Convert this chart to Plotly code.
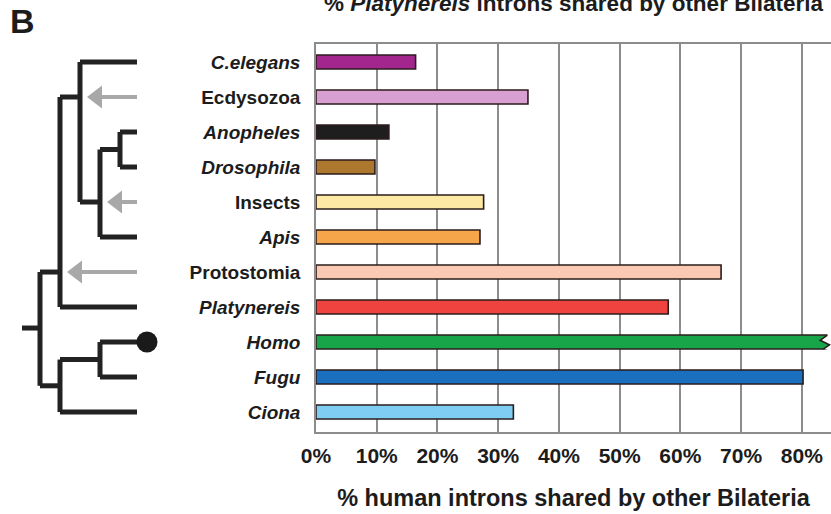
import plotly.graph_objects as go

# Taxa listed top to bottom, share of human introns found in each
taxa = ["C.elegans", "Ecdysozoa", "Anopheles", "Drosophila", "Insects", "Apis",
        "Protostomia", "Platynereis", "Homo", "Fugu", "Ciona"]
is_clade = [False, True, False, False, True, False, True, False, False, False, False]
shared_pct = [16.4, 34.9, 12.0, 9.7, 27.6, 27.0, 66.7, 58.0, 100.0, 80.2, 32.5]
bar_colors = ["#a2268e", "#d8a0d2", "#1e1e1e", "#ad772d", "#fde9a4", "#f6a54b",
              "#fac9b3", "#ee433e", "#18a54a", "#1b6fbf", "#80cdf3"]

pct_ticks = [0, 10, 20, 30, 40, 50, 60, 70, 80]
pct_labels = [f"{v}%" for v in pct_ticks]

# Cladogram: node -> (parent, depth, row); tips sit at depth TIP_DEPTH on their own row
TIP_DEPTH = 5.85
tree = {
    "Bilateria":     (None,            1.0, 7.6),
    "Protostomia":   ("Bilateria",     2.0, 6.0),
    "Deuterostomia": ("Bilateria",     2.0, 9.25),
    "Ecdysozoa":     ("Protostomia",   3.0, 1.0),
    "Insects":       ("Ecdysozoa",     4.0, 4.0),
    "Diptera":       ("Insects",       5.0, 2.5),
    "Vertebrata":    ("Deuterostomia", 4.0, 8.5),
    "C.elegans":     ("Ecdysozoa",     TIP_DEPTH, 0),
    "Anopheles":     ("Diptera",       TIP_DEPTH, 2),
    "Drosophila":    ("Diptera",       TIP_DEPTH, 3),
    "Apis":          ("Insects",       TIP_DEPTH, 5),
    "Platynereis":   ("Protostomia",   TIP_DEPTH, 7),
    "Homo":          ("Vertebrata",    TIP_DEPTH, 8),
    "Fugu":          ("Vertebrata",    TIP_DEPTH, 9),
    "Ciona":         ("Deuterostomia", TIP_DEPTH, 10),
}
ROOT_STUB = 0.1
arrow_clades = ["Ecdysozoa", "Insects", "Protostomia"]
reference_taxon = "Homo"

FONT = "Liberation Sans, Arial, Helvetica, sans-serif"
INK = "#1c1c1c"
GRID = "#8c8c8c"

# ---- tree segments -------------------------------------------------------
tx, ty = [], []
children = {}
for name, (parent, d, r) in tree.items():
    if parent is not None:
        children.setdefault(parent, []).append(name)
for name, (parent, d, r) in tree.items():
    if parent is None:
        tx += [ROOT_STUB, d, None]
        ty += [r, r, None]
    else:
        pd_ = tree[parent][1]
        tx += [pd_, d, None]
        ty += [r, r, None]
for name, kids in children.items():
    d = tree[name][1]
    rows = [tree[k][2] for k in kids]
    tx += [d, d, None]
    ty += [min(rows), max(rows), None]

fig = go.Figure()

fig.add_trace(go.Scatter(
    x=tx, y=ty, xaxis="x2", yaxis="y", mode="lines",
    line=dict(color="#222222", width=5), hoverinfo="skip", showlegend=False,
))

# grey arrows pointing at the clade nodes
for clade in arrow_clades:
    d, r = tree[clade][1], tree[clade][2]
    fig.add_trace(go.Scatter(
        x=[TIP_DEPTH, d + 0.85], y=[r, r], xaxis="x2", yaxis="y", mode="lines",
        line=dict(color="#a8a8a8", width=4), hoverinfo="skip", showlegend=False,
    ))
    fig.add_trace(go.Scatter(
        x=[d + 0.85], y=[r], xaxis="x2", yaxis="y", mode="markers",
        marker=dict(symbol="triangle-left", size=20, color="#a8a8a8"),
        hoverinfo="skip", showlegend=False,
    ))

# black dot on the reference genome tip
fig.add_trace(go.Scatter(
    x=[TIP_DEPTH + 0.5], y=[tree[reference_taxon][2]], xaxis="x2", yaxis="y",
    mode="markers", marker=dict(size=21, color="#1a1a1a"),
    hoverinfo="skip", showlegend=False,
))

# ---- bars ----------------------------------------------------------------
rows = list(range(len(taxa)))
fig.add_trace(go.Bar(
    x=shared_pct, y=rows, orientation="h", xaxis="x", yaxis="y",
    width=0.4, marker=dict(color=bar_colors, line=dict(color="#2b1c1c", width=1.6)),
    showlegend=False, hoverinfo="x+y",
))

ticktext = [f"<b>{t}</b>" if c else f"<b><i>{t}</i></b>" for t, c in zip(taxa, is_clade)]

# broken end of the off-scale bar
hr = taxa.index(reference_taxon)
zig_x = [0.993, 0.979, 0.997, 0.985]
zig_y = [hr - 0.2, hr - 0.05, hr + 0.08, hr + 0.2]
cover = "M " + " L ".join(f"{x},{y}" for x, y in zip(zig_x, zig_y)) + f" L 1.02,{hr + 0.3} L 1.02,{hr - 0.3} L {zig_x[0]},{hr - 0.3} Z"
edge = "M " + " L ".join(f"{x},{y}" for x, y in zip(zig_x, zig_y))

fig.update_layout(
    width=831, height=514,
    margin=dict(l=0, r=0, t=44, b=82, autoexpand=False),
    paper_bgcolor="white", plot_bgcolor="white",
    font=dict(family=FONT, color=INK),
    xaxis=dict(
        domain=[316 / 831, 1.0], range=[0, 84.8], automargin=False,
        tickvals=pct_ticks, ticktext=pct_labels,
        tickfont=dict(size=21, weight="bold", color=INK),
        ticks="", ticklabelstandoff=4,
        showgrid=True, gridcolor=GRID, gridwidth=1.5,
        showline=True, linecolor=GRID, linewidth=1.5, mirror=True,
        zeroline=False, fixedrange=True,
        title=dict(text="<b>% human introns shared by other Bilateria</b>",
                   font=dict(size=23.5, color=INK), standoff=24),
    ),
    xaxis2=dict(
        domain=[0, 316 / 831], range=[-1.0, 14.8], anchor="y",
        visible=False, fixedrange=True, automargin=False,
    ),
    yaxis=dict(
        range=[10.57, -0.514], tickvals=rows, ticktext=ticktext, automargin=False,
        tickfont=dict(size=19, color=INK),
        ticks="", ticklabelstandoff=10,
        showgrid=False, showline=True, linecolor=GRID, linewidth=1.5, mirror=True,
        zeroline=False, fixedrange=True,
    ),
    shapes=[
        dict(type="path", xref="x domain", yref="y", path=cover,
             fillcolor="white", line=dict(width=0), layer="above"),
        dict(type="path", xref="x domain", yref="y", path=edge,
             line=dict(color="#2b1c1c", width=1.6), layer="above"),
    ],
    annotations=[
        dict(text="<b>B</b>", x=22 / 831, y=1 + (44 - 21) / 388, xref="paper", yref="paper",
             xanchor="center", yanchor="middle", showarrow=False,
             font=dict(size=34, color=INK)),
        dict(text="<b>% <i>Platynereis</i> introns shared by other Bilateria</b>",
             x=(316 + 831) / 2 / 831, y=1 + (44 - 4) / 388, xref="paper", yref="paper",
             xanchor="center", yanchor="middle", showarrow=False,
             font=dict(size=22.5, color=INK)),
    ],
)

fig.write_html("out.html")
